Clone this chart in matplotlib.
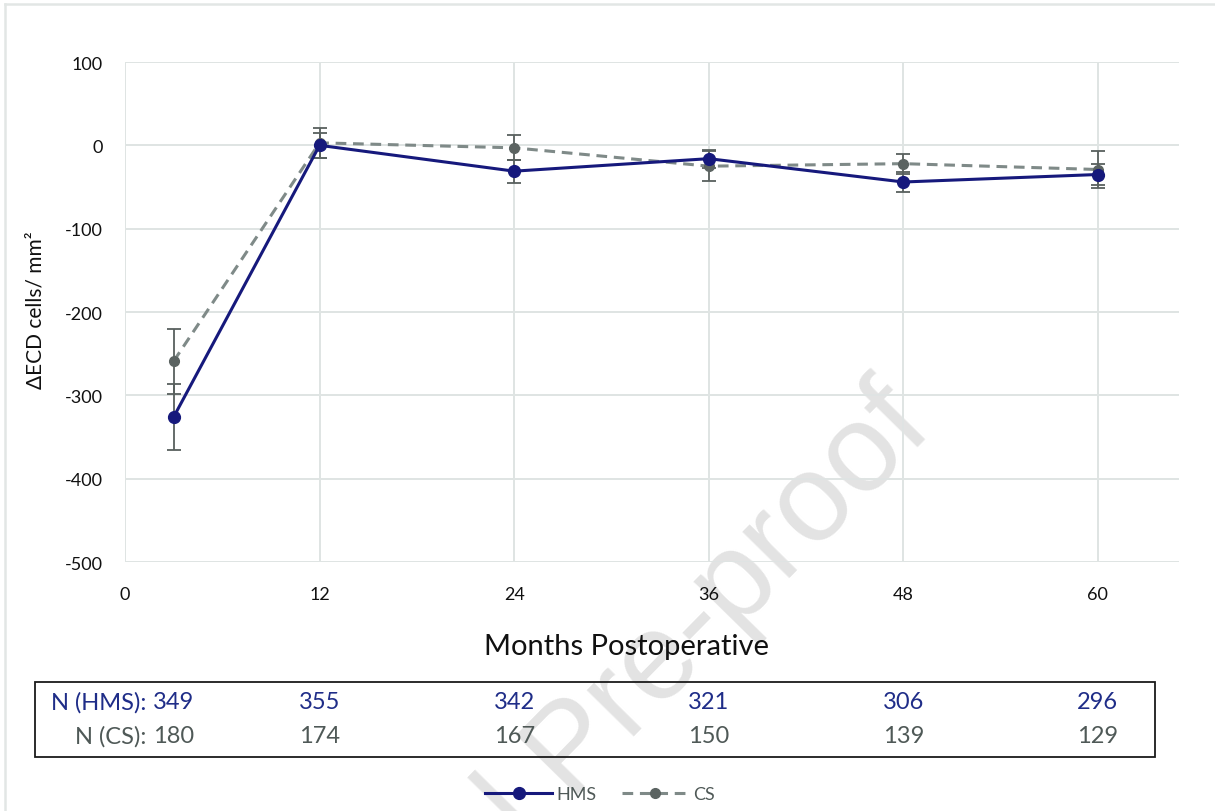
import matplotlib
matplotlib.use("Agg")
import matplotlib.pyplot as plt
from matplotlib.lines import Line2D
from matplotlib.patches import Rectangle
import matplotlib.transforms as mtransforms

plt.rcParams['font.family'] = ['Lato', 'DejaVu Sans']
plt.rcParams['axes.unicode_minus'] = False

# ---- data ----
months = [3, 12, 24, 36, 48, 60]
hms_mean = [-326, 0, -31, -16, -44, -35]
hms_err = [40, 15, 14, 11, 12, 13]
cs_mean = [-259, 3, -3, -25, -22, -29]
cs_err = [39, 18, 15, 18, 12, 22]
n_hms = [349, 355, 342, 321, 306, 296]
n_cs = [180, 174, 167, 150, 139, 129]
xticks = [0, 12, 24, 36, 48, 60]
yticks = [100, 0, -100, -200, -300, -400, -500]

W, H = 1215, 812
fig = plt.figure(figsize=(W / 100, H / 100), dpi=100)

def fx(px):
    return px / W

def fy(py):
    return 1 - py / H

ax = fig.add_axes([fx(125), fy(563), fx(1179) - fx(125), fy(63) - fy(563)])
ax.patch.set_alpha(0)

navy = '#16197c'
grey_line = '#7f8a88'
grey_mark = '#5b6361'
err_col = '#58605e'
grid_col = '#dfe4e3'

ax.errorbar(months, hms_mean, yerr=hms_err, fmt='none', ecolor=err_col,
            elinewidth=1.3, capsize=5, capthick=1.3, zorder=3)
ax.errorbar(months, cs_mean, yerr=cs_err, fmt='none', ecolor=err_col,
            elinewidth=1.3, capsize=5, capthick=1.3, zorder=3)
ax.plot(months, cs_mean, color=grey_line, lw=2.2, ls=(0, (3.5, 2.2)),
        marker='o', ms=7, mfc=grey_mark, mec=grey_mark, zorder=4)
ax.plot(months, hms_mean, color=navy, lw=2.2, marker='o', ms=8.5,
        mfc=navy, mec=navy, zorder=5)

ax.set_xlim(0, 65)
ax.set_ylim(-500, 100)
ax.set_xticks(xticks)
ax.set_yticks(yticks)
ax.tick_params(length=0, labelsize=13, colors='#111111')
ax.tick_params(axis='x', pad=17)
ax.tick_params(axis='y', pad=16)
for s in ax.spines.values():
    s.set_visible(False)
ax.grid(True, color=grid_col, lw=1.4)
ax.set_axisbelow(True)

fig.text(fx(36), fy(310), 'ΔECD cells/ mm²', rotation=90, ha='center',
         va='center', fontsize=15, color='#111111')
fig.text(fx(627), fy(647), 'Months Postoperative', ha='center', va='center',
         fontsize=21, color='#111111')

# table box
fig.patches.append(Rectangle((fx(35), fy(758)), fx(1155) - fx(35),
                             fy(683) - fy(758), transform=fig.transFigure,
                             fill=False, ec='#1a1a1a', lw=1.3))
blend = mtransforms.blended_transform_factory(ax.transData, fig.transFigure)
hms_txt = '#1f2d88'
cs_txt = '#4f5957'
for i, (m, a, b) in enumerate(zip(months, n_hms, n_cs)):
    fig.text(m, fy(703), str(a), transform=blend, ha='center', va='center',
             fontsize=17, color=hms_txt)
    fig.text(m, fy(737), str(b), transform=blend, ha='center', va='center',
             fontsize=17, color=cs_txt)
fig.text(fx(146), fy(703), 'N (HMS):', ha='right', va='center', fontsize=17,
         color=hms_txt)
fig.text(fx(146), fy(737), 'N (CS):', ha='right', va='center', fontsize=17,
         color=cs_txt)

# legend
handles = [Line2D([], [], color=navy, lw=2.2, marker='o', ms=8.5, mfc=navy,
                  mec=navy),
           Line2D([], [], color=grey_line, lw=2.2, ls=(0, (3.5, 2.2)),
                  marker='o', ms=7, mfc=grey_mark, mec=grey_mark)]
leg = fig.legend(handles, ['HMS', 'CS'], loc='center',
                 bbox_to_anchor=(fx(600), fy(795)), ncol=2, frameon=False,
                 fontsize=13, handlelength=3.7, handletextpad=0.25,
                 columnspacing=1.4)
for t in leg.get_texts():
    t.set_color('#4f5957')

# outer frame (top and left edges)
fig.add_artist(Line2D([fx(5), 1.0], [fy(5), fy(5)], transform=fig.transFigure,
                      color='#e2e6e5', lw=1.8))
fig.add_artist(Line2D([fx(5), fx(5)], [fy(5), 0.0], transform=fig.transFigure,
                      color='#e2e6e5', lw=1.8))

# watermark
fig.text(fx(912), fy(408), 'Journal Pre-proof', rotation=45.5,
         rotation_mode='anchor', ha='right', va='center', fontsize=90,
         family='Liberation Sans', color='#e3e3e3', zorder=-1)

fig.savefig('out.png', dpi=100)
